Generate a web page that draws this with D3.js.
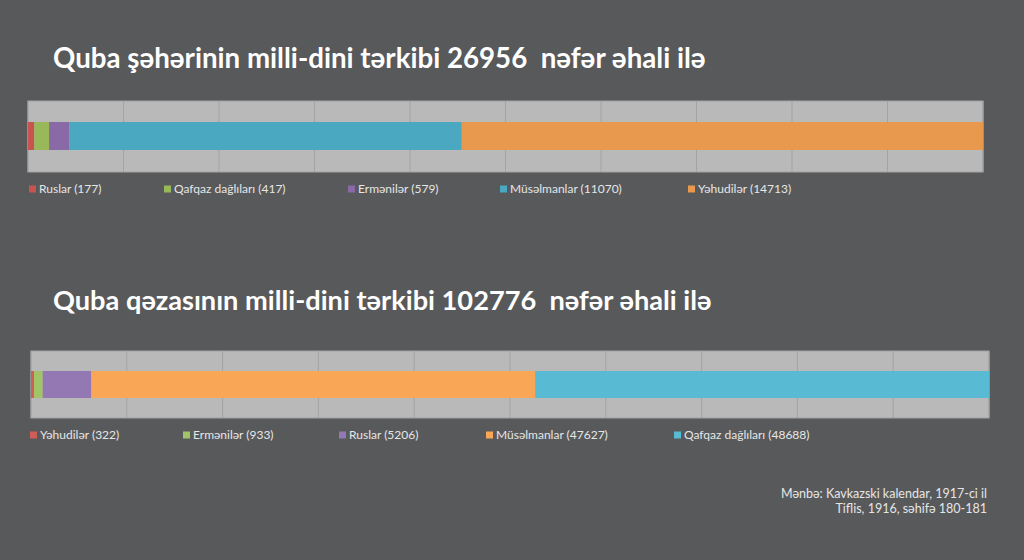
<!DOCTYPE html>
<html>
<head>
<meta charset="utf-8">
<script src="https://cdn.jsdelivr.net/npm/d3@7"></script>
<style>
  body { margin: 0; background: #58595b; }
  svg { display: block; }
  text { white-space: pre; }
</style>
</head>
<body>
<svg id="chart" width="1024" height="560"></svg>
<script>
// city data
const cityNames = ["Ruslar", "Qafqaz dağlıları", "Ermənilər", "Müsəlmanlar", "Yəhudilər"];
const cityValues = [177, 417, 579, 11070, 14713];
const cityColors = ["#c9544f", "#98b85a", "#8a6aa6", "#4aa9c1", "#e8994d"];
const cityTotal = 26956;

// district data
const distNames = ["Yəhudilər", "Ermənilər", "Ruslar", "Müsəlmanlar", "Qafqaz dağlıları"];
const distValues = [322, 933, 5206, 47627, 48688];
const distColors = ["#d05e58", "#a2c466", "#9478b4", "#f9a657", "#59bad3"];
const distTotal = 102776;

const svg = d3.select("#chart");
const W = 1024, H = 560;

svg.append("rect").attr("width", W).attr("height", H).attr("fill", "#58595b");

function title(text, y, targetW) {
  const t = svg.append("text")
    .attr("x", 53).attr("y", y)
    .attr("fill", "#ffffff")
    .attr("font-family", "Lato, 'Open Sans', sans-serif")
    .attr("font-weight", "bold")
    .attr("font-size", 28)
    .text(text);
  const w = t.node().getComputedTextLength();
  t.attr("font-size", 28 * targetW / w);
}

function bar(cfg) {
  const { names, values, colors, total, x0, x1, y0, y1, barTop, barBot, legendY, legendX } = cfg;
  const x = d3.scaleLinear().domain([0, total]).range([x0, x1]);
  const g = svg.append("g");

  g.append("rect")
    .attr("x", x0).attr("y", y0)
    .attr("width", x1 - x0).attr("height", y1 - y0)
    .attr("fill", "#b9b9b9");

  const ticks = d3.range(0, 11).map(i => total * i / 10);
  g.append("g")
    .selectAll("line")
    .data(ticks)
    .join("line")
    .attr("x1", d => x(d)).attr("x2", d => x(d))
    .attr("y1", y0).attr("y2", y1)
    .attr("stroke", "#a3a3a3")
    .attr("stroke-width", 1);

  g.append("rect")
    .attr("x", x0).attr("y", y0)
    .attr("width", x1 - x0).attr("height", y1 - y0)
    .attr("fill", "none")
    .attr("stroke", "#a3a3a3");

  const stack = [];
  let acc = 0;
  values.forEach((v, i) => { stack.push({ s: acc, e: acc + v, i }); acc += v; });

  g.append("g")
    .selectAll("rect")
    .data(stack)
    .join("rect")
    .attr("x", d => x(d.s))
    .attr("width", d => x(d.e) - x(d.s))
    .attr("y", barTop)
    .attr("height", barBot - barTop)
    .attr("fill", d => colors[d.i]);

  const leg = g.append("g")
    .selectAll("g")
    .data(names)
    .join("g")
    .attr("transform", (d, i) => `translate(${legendX[i]},${legendY})`);
  leg.append("rect")
    .attr("x", 0).attr("y", -7.5)
    .attr("width", 7).attr("height", 7)
    .attr("fill", (d, i) => colors[i]);
  leg.append("text")
    .attr("x", 10).attr("y", 0)
    .attr("fill", "#e6e6e6")
    .attr("font-family", "Lato, 'Open Sans', sans-serif")
    .attr("font-size", 12)
    .text((d, i) => `${d} (${values[i]})`);
}

title("Quba şəhərinin milli-dini tərkibi 26956  nəfər əhali ilə", 68, 653);
bar({
  names: cityNames, values: cityValues, colors: cityColors, total: cityTotal,
  x0: 28, x1: 983, y0: 101, y1: 172, barTop: 122, barBot: 150,
  legendY: 193, legendX: [29, 164, 348, 500, 688]
});

title("Quba qəzasının milli-dini tərkibi 102776  nəfər əhali ilə", 310, 659);
bar({
  names: distNames, values: distValues, colors: distColors, total: distTotal,
  x0: 31, x1: 989, y0: 351, y1: 418, barTop: 371, barBot: 398,
  legendY: 439, legendX: [30, 183, 339, 486, 674]
});

svg.append("g")
  .selectAll("text")
  .data(["Mənbə: Kavkazski kalendar, 1917-ci il", "Tiflis, 1916, səhifə 180-181"])
  .join("text")
  .attr("x", 987)
  .attr("y", (d, i) => 498 + i * 15)
  .attr("text-anchor", "end")
  .attr("fill", "#e6e6e6")
  .attr("font-family", "Lato, 'Open Sans', sans-serif")
  .attr("font-size", 12.5)
  .text(d => d);
</script>
</body>
</html>
